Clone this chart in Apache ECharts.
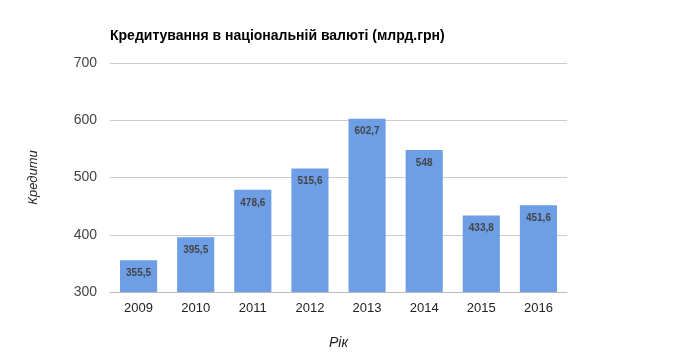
<!DOCTYPE html>
<html><head><meta charset="utf-8">
<script src="https://cdn.jsdelivr.net/npm/echarts@6/dist/echarts.min.js"></script>
<style>html,body{margin:0;padding:0;background:#fff}#c{width:678px;height:356px}</style>
</head><body><div id="c"></div>
<script>
const years = ['2009','2010','2011','2012','2013','2014','2015','2016'];
const values = [355.5, 395.5, 478.6, 515.6, 602.7, 548, 433.8, 451.6];
const titleText = 'Кредитування в національній валюті (млрд.грн)';
const yName = 'Кредити';
const xName = 'Рік';
const chart = echarts.init(document.getElementById('c'), null, {renderer:'canvas'});
chart.setOption({
  animation:false,
  backgroundColor:'#fff',
  title:{text:titleText,left:110,top:29,padding:0,textStyle:{fontFamily:'Liberation Sans, Arial',fontSize:14,fontWeight:'bold',color:'#000'}},
  grid:{left:110,right:111,top:63,bottom:64,containLabel:false},
  xAxis:{type:'category',data:years,
    name:xName,nameLocation:'middle',nameGap:44,
    nameTextStyle:{fontFamily:'Liberation Sans, Arial',fontSize:14,fontStyle:'italic',color:'#222'},
    axisLine:{lineStyle:{color:'#bbb'}},axisTick:{show:false},
    axisLabel:{fontFamily:'Liberation Sans, Arial',fontSize:13,color:'#222',margin:10}},
  yAxis:{type:'value',min:300,max:700,interval:100,
    name:yName,nameLocation:'middle',nameGap:70,nameRotate:90,
    nameTextStyle:{fontFamily:'Liberation Sans, Arial',fontSize:13,fontStyle:'italic',color:'#222'},
    axisLine:{show:false},axisTick:{show:false},
    splitLine:{lineStyle:{color:'#ccc'}},
    axisLabel:{fontFamily:'Liberation Sans, Arial',fontSize:14,color:'#444',margin:13}},
  series:[{type:'bar',data:values,barCategoryGap:'35%',
    itemStyle:{color:'#6d9ee6'},
    label:{show:true,position:'insideTop',distance:8,
      formatter:p=>String(p.value).replace('.',','),
      fontFamily:'Liberation Sans, Arial',fontSize:10,fontWeight:'bold',color:'#444'}}]
});
</script></body></html>
